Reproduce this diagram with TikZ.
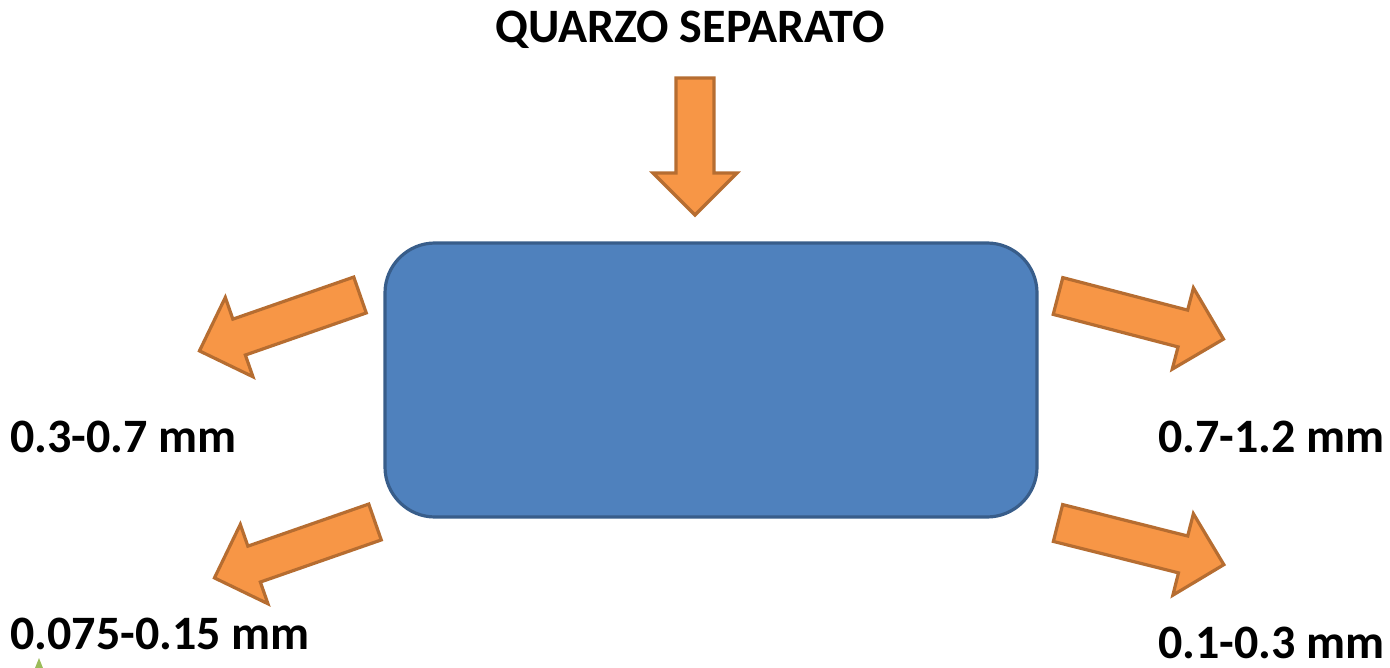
\documentclass[tikz,border=0pt]{standalone}
\usepackage{fontspec}
\setmainfont{Carlito}
\usepackage{xcolor}

\definecolor{boxblue}{HTML}{4F81BD}
\definecolor{boxedge}{HTML}{385D8A}
\definecolor{arrfill}{HTML}{F79646}
\definecolor{arredge}{HTML}{B66D31}
\definecolor{leafgreen}{HTML}{9BBB59}

\tikzset{
  barrow/.style={fill=arrfill,draw=arredge,line width=1.6pt,line join=miter},
  label/.style={font=\fontsize{24}{28}\selectfont\bfseries,inner sep=0pt}
}

% block arrow: name, back centre, angle, length
\newcommand{\blockarrow}[4]{%
  \begin{scope}[shift={#2},rotate=#3]
    \draw[barrow] (0,-19) -- (#4-42,-19) -- (#4-42,-42) -- (#4,0)
      -- (#4-42,42) -- (#4-42,19) -- (0,19) -- cycle;
    \coordinate (#1) at (#4,0);
  \end{scope}}

\begin{document}
\begin{tikzpicture}[x=0.5pt,y=-0.5pt]
            		\useasboundingbox (0,0) rectangle (1390,668);

            		\node (sep) at (711,380) [draw=boxedge,fill=boxblue,line width=1.6pt,rounded corners=25pt,minimum width=326pt,minimum height=137pt] {};

            		\node[label] (top) at (690,30) {QUARZO SEPARATO};
            		\node[label,anchor=west] (ul) at (10,437) {0.3-0.7 mm};
            		\node[label,anchor=west] (ll) at (10,634) {0.075-0.15 mm};
            		\node[label,anchor=east] (ur) at (1385,437) {0.7-1.2 mm};
            		\node[label,anchor=east] (lr) at (1385,643) {0.1-0.3 mm};

            		\blockarrow{intop}{(695,78)}{-90}{137}
            		\blockarrow{outul}{(360,295)}{199.2}{170}
            		\blockarrow{outll}{(375,522)}{199.2}{170}
            		\blockarrow{outur}{(1058,296)}{-14.6}{171}
            		\blockarrow{outlr}{(1058,523)}{-14.1}{171}

            		\fill[leafgreen] (35,668) -- (39,658) -- (43,668) -- cycle;
        		\end{tikzpicture}
\end{document}
